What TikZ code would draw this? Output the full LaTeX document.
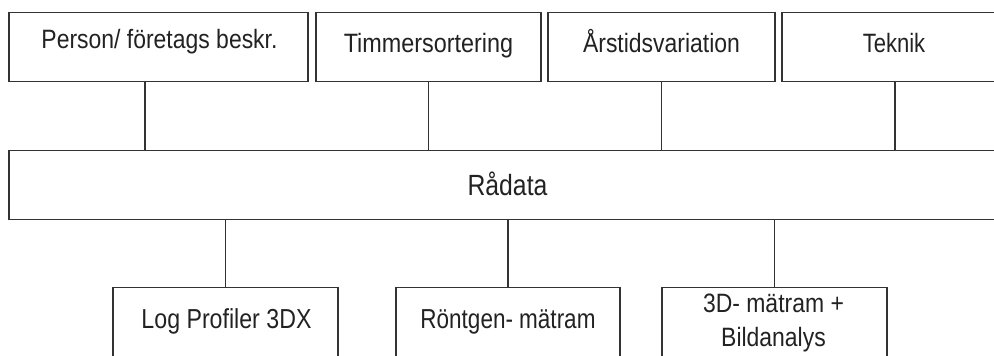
\documentclass[tikz,border=0pt]{standalone}
\usepackage{fontspec}
\usepackage{graphicx}
\setmainfont{Liberation Sans}
\definecolor{linegray}{HTML}{333333}
\definecolor{textgray}{HTML}{222222}
\begin{document}
\begin{tikzpicture}[x=1pt,y=-1pt,
  box/.style={draw=linegray, line width=1.3pt, minimum height=69pt, inner sep=0pt, anchor=north},
  lbl/.style={font=\fontsize{22.5}{27}\selectfont, text=textgray, anchor=base, inner sep=0pt},
  conn/.style={draw=linegray, line width=1.3pt}]
\useasboundingbox (0,0) rectangle (994,356);
\clip (0,0) rectangle (994,356);
% top boxes
\node[box, minimum width=299pt] (b1) at (158.5,12) {};
\node[box, minimum width=225pt] (b2) at (428.5,12) {};
\node[box, minimum width=227pt] (b3) at (661.5,12) {};
\node[box, minimum width=226pt] (b4) at (895,12) {};
\node[lbl] (t1) at (159.5,48) {\scalebox{1.02}[1.18]{Person/ företags beskr.}};
\node[lbl] (t2) at (428.5,52) {\scalebox{1.04}[1.18]{Timmersortering}};
\node[lbl] (t3) at (661.5,52) {\scalebox{1.02}[1.18]{Årstidsvariation}};
\node[lbl] (t4) at (894,52) {\scalebox{0.98}[1.18]{Teknik}};
% central box
\node[box, minimum width=998pt] (r) at (508,150) {};
\node[lbl] (tr) at (507.5,195) {\scalebox{1.10}[1.3]{Rådata}};
% bottom boxes
\node[box, minimum width=225pt, minimum height=75pt] (l1) at (225.5,287) {};
\node[box, minimum width=224pt, minimum height=75pt] (l2) at (508,287) {};
\node[box, minimum width=225pt, minimum height=75pt] (l3) at (774.5,287) {};
\node[lbl] (u1) at (226.5,328) {\scalebox{1.03}[1.22]{Log Profiler 3DX}};
\node[lbl] (u2) at (508,328) {\scalebox{1.0}[1.22]{Röntgen- mätram}};
\node[lbl] (u3a) at (773.5,312) {\scalebox{1.02}[1.18]{3D- mätram +}};
\node[lbl] (u3b) at (773.5,346) {\scalebox{1.02}[1.18]{Bildanalys}};
% connectors
\draw[conn] ([xshift=-13.5pt]b1.south) -- ([xshift=-13.5pt]b1.south |- r.north);
\draw[conn] (b2.south) -- (b2.south |- r.north);
\draw[conn] (b3.south) -- (b3.south |- r.north);
\draw[conn] (b4.south) -- (b4.south |- r.north);
\draw[conn] (r.south -| l1.north) -- (l1.north);
\draw[conn] (r.south -| l2.north) -- (l2.north);
\draw[conn] (r.south -| l3.north) -- (l3.north);
\end{tikzpicture}
\end{document}
